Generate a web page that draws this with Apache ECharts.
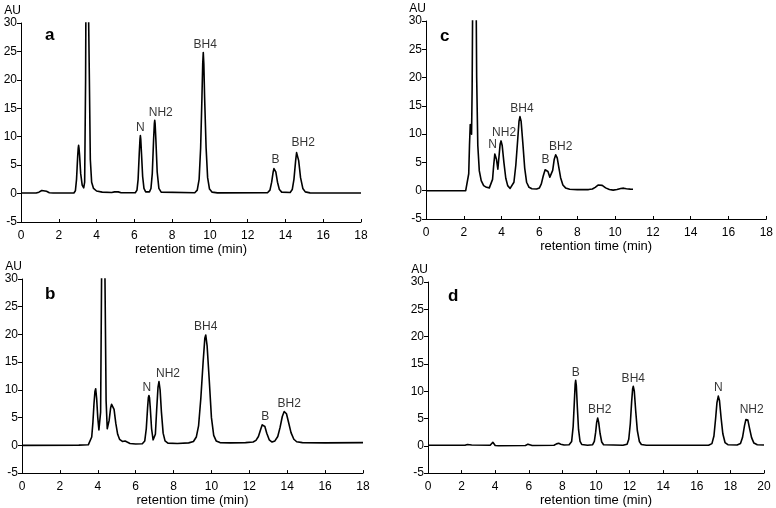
<!DOCTYPE html>
<html>
<head>
<meta charset="utf-8">
<script src="https://cdn.jsdelivr.net/npm/echarts@6/dist/echarts.min.js"></script>
<style>html,body{margin:0;padding:0;background:#fff}#c{width:776px;height:508px}</style>
</head>
<body>
<div id="c"></div>
<script>
// ---------- DATA ----------
const xTicksA = [0, 2, 4, 6, 8, 10, 12, 14, 16, 18];
const xTicksD = [0, 2, 4, 6, 8, 10, 12, 14, 16, 18, 20];
const yTicks = [-5, 0, 5, 10, 15, 20, 25, 30];

// panel a chromatogram [time (min), AU]
const traceA = [[0,0.1],[0.8,0.1],[0.95,0.25],[1.1,0.55],[1.2,0.6],[1.35,0.4],[1.5,0.15],[1.7,0.1],[2.8,0.1],[2.88,0.5],[2.94,2.5],[2.97,4.5],[3.0,6.5],[3.03,8.0],[3.05,8.5],[3.07,8.0],[3.1,6.8],[3.16,3.5],[3.24,1.5],[3.32,1.0],[3.37,2],[3.42,20],[3.47,60],[3.57,60],[3.62,20],[3.67,6],[3.74,2],[3.84,0.9],[4.0,0.45],[4.3,0.25],[4.8,0.2],[4.95,0.3],[5.05,0.5],[5.15,0.3],[5.3,0.15],[6.05,0.15],[6.14,0.6],[6.2,2.5],[6.26,7],[6.3,9.6],[6.32,10.2],[6.34,9.6],[6.38,7],[6.44,3],[6.51,0.9],[6.6,0.3],[6.8,0.3],[6.88,0.9],[6.95,3.5],[7.02,9.5],[7.06,12.3],[7.08,12.9],[7.1,12.3],[7.14,9.5],[7.21,3.8],[7.3,0.9],[7.42,0.25],[9.2,0.15],[9.33,0.6],[9.43,2.5],[9.51,8],[9.58,17],[9.62,22.8],[9.65,24.8],[9.68,22.8],[9.72,17],[9.8,8],[9.88,2.8],[9.98,0.8],[10.12,0.25],[10.4,0.12],[13.05,0.15],[13.18,0.6],[13.27,2],[13.35,3.8],[13.39,4.4],[13.42,4.6],[13.45,4.4],[13.49,3.8],[13.58,2],[13.68,0.7],[13.8,0.25],[14.25,0.2],[14.36,0.7],[14.45,2.5],[14.54,5.8],[14.59,7.2],[14.62,7.5],[14.65,7.2],[14.7,5.8],[14.8,2.8],[14.92,0.9],[15.05,0.3],[15.3,0.12],[18,0.1]];
const peakNamesA = ['N', 'NH2', 'BH4', 'B', 'BH2'];
const peakTimesA = [6.32, 7.08, 9.65, 13.42, 14.62];
const peakHeightsA = [10.2, 12.9, 24.8, 4.6, 7.5];

// panel b
const traceB = [[0,0],[3.0,0.05],[3.5,0.1],[3.6,0.3],[3.68,1.5],[3.74,4],[3.8,7.5],[3.85,9.7],[3.89,10.2],[3.94,8.5],[4.0,5],[4.06,2.8],[4.1,2.6],[4.15,6],[4.2,30],[4.25,60],[4.33,60],[4.38,30],[4.44,8],[4.5,3],[4.54,2.9],[4.6,4.5],[4.68,6.8],[4.73,7.4],[4.77,7.5],[4.81,7.3],[4.86,6.5],[4.95,4],[5.05,2],[5.15,1.1],[5.3,0.7],[5.44,0.8],[5.55,0.6],[5.7,0.35],[6.0,0.25],[6.35,0.3],[6.48,0.8],[6.56,3],[6.63,6.8],[6.67,8.6],[6.7,9.0],[6.73,8.6],[6.77,6.8],[6.84,3],[6.92,1],[6.98,0.8],[7.04,2],[7.11,6.5],[7.18,10.5],[7.23,11.5],[7.29,10],[7.36,6],[7.45,2.2],[7.55,0.8],[7.7,0.4],[8.2,0.35],[8.8,0.45],[9.05,0.7],[9.2,1.5],[9.32,3.5],[9.44,8.5],[9.56,15],[9.65,19.3],[9.7,19.9],[9.77,18],[9.88,12],[10.0,5],[10.12,1.8],[10.25,0.8],[10.45,0.5],[11.0,0.45],[11.8,0.5],[12.2,0.6],[12.35,0.9],[12.48,1.6],[12.58,2.7],[12.68,3.7],[12.74,3.8],[12.82,3.4],[12.92,2.2],[13.05,1.0],[13.2,0.6],[13.35,0.8],[13.5,1.6],[13.62,3.2],[13.74,5.2],[13.84,6.1],[13.89,6.15],[13.96,5.7],[14.06,4.3],[14.2,2.3],[14.35,1.1],[14.5,0.65],[14.8,0.5],[16,0.45],[18,0.5]];
const peakNamesB = ['N', 'NH2', 'BH4', 'B', 'BH2'];
const peakTimesB = [6.7, 7.23, 9.7, 12.74, 13.89];
const peakHeightsB = [9.0, 11.5, 19.9, 3.8, 6.15];

// panel c
const traceC = [[0,0],[2.1,0],[2.2,0.3],[2.26,3],[2.3,8],[2.34,11.7],[2.38,10.5],[2.41,10],[2.44,18],[2.48,40],[2.56,60],[2.64,40],[2.68,20],[2.74,8],[2.82,3.5],[2.92,1.8],[3.05,0.9],[3.2,0.6],[3.35,0.5],[3.45,0.8],[3.52,2],[3.58,4.5],[3.64,6.5],[3.68,6.8],[3.73,5.5],[3.8,3.8],[3.86,6],[3.92,8.2],[3.97,8.8],[4.03,8],[4.12,5],[4.22,2.2],[4.32,0.9],[4.45,0.4],[4.55,0.5],[4.65,1.5],[4.75,4.5],[4.85,9],[4.92,12.3],[4.97,13.1],[5.03,12.3],[5.12,8.5],[5.22,4],[5.32,1.5],[5.45,0.6],[5.6,0.35],[5.85,0.3],[6.0,0.5],[6.1,1.2],[6.2,2.6],[6.3,3.7],[6.37,4.0],[6.45,3.4],[6.55,2.4],[6.62,2.2],[6.7,3.6],[6.78,5.5],[6.86,6.35],[6.94,5.8],[7.02,4.2],[7.12,2.3],[7.24,1.0],[7.38,0.5],[7.6,0.25],[8.0,0.2],[8.6,0.2],[8.8,0.3],[8.95,0.6],[9.1,1.0],[9.2,1.1],[9.32,0.95],[9.5,0.5],[9.7,0.2],[9.9,0.1],[10.1,0.2],[10.3,0.4],[10.45,0.45],[10.6,0.35],[10.8,0.28],[10.95,0.25]];
const peakNamesC = ['N', 'NH2', 'BH4', 'B', 'BH2'];
const peakTimesC = [3.68, 3.97, 4.97, 6.37, 6.86];
const peakHeightsC = [6.8, 8.8, 13.1, 4.0, 6.35];

// panel d
const traceD = [[0,0.1],[2.2,0.1],[2.35,0.25],[2.45,0.3],[2.6,0.15],[3.7,0.1],[3.8,0.3],[3.86,0.65],[3.92,0.3],[4.0,0.05],[4.2,0.0],[5.8,0.05],[5.95,0.3],[6.05,0.2],[6.2,0.05],[7.5,0.1],[7.65,0.35],[7.78,0.45],[7.9,0.3],[8.1,0.15],[8.4,0.2],[8.55,0.8],[8.64,3.5],[8.71,8],[8.76,11.3],[8.79,12.0],[8.83,11],[8.89,7],[8.96,3],[9.05,0.8],[9.15,0.25],[9.5,0.1],[9.8,0.2],[9.9,0.8],[9.98,2.5],[10.04,4.3],[10.1,5.1],[10.16,4.3],[10.24,2.3],[10.34,0.7],[10.45,0.2],[11.6,0.1],[11.85,0.3],[11.95,1.2],[12.04,4],[12.12,8],[12.18,10.4],[12.22,10.9],[12.28,10],[12.36,6.5],[12.46,2.8],[12.58,0.8],[12.7,0.25],[13.0,0.1],[16.7,0.1],[16.9,0.4],[17.02,1.8],[17.12,5],[17.2,7.9],[17.28,9.1],[17.35,8.3],[17.45,5],[17.55,2.2],[17.68,0.6],[17.85,0.2],[18.4,0.15],[18.6,0.4],[18.72,1.5],[18.84,3.7],[18.92,4.8],[18.97,5.1],[19.04,4.7],[19.14,3.2],[19.26,1.5],[19.4,0.5],[19.6,0.2],[20,0.15]];
const peakNamesD = ['B', 'BH2', 'BH4', 'N', 'NH2'];
const peakTimesD = [8.79, 10.1, 12.22, 17.28, 18.97];
const peakHeightsD = [12.0, 5.1, 10.9, 9.1, 5.1];

const panelLetters = ['a', 'b', 'c', 'd'];
const axisTitleX = 'retention time (min)';
const axisTitleY = 'AU';

// ---------- LAYOUT / STYLE ----------
const FONT = "'Liberation Sans', Arial, sans-serif";
const panels = [
  { letter: panelLetters[0], trace: traceA, names: peakNamesA, times: peakTimesA, heights: peakHeightsA, xmax: 18,
    grid: { left: 21, top: 23, width: 340, height: 199 }, letterPos: { left: 45, top: 27 },
    dx: [0, 6, 2, 1, 6] },
  { letter: panelLetters[1], trace: traceB, names: peakNamesB, times: peakTimesB, heights: peakHeightsB, xmax: 18,
    grid: { left: 22, top: 279, width: 341, height: 198 }, letterPos: { left: 45, top: 286 },
    dx: [-2, 9, 0, 2, 4] },
  { letter: panelLetters[2], trace: traceC, names: peakNamesC, times: peakTimesC, heights: peakHeightsC, xmax: 18,
    grid: { left: 426, top: 21, width: 341, height: 198 }, letterPos: { left: 440, top: 28 },
    dx: [-3, 3, 2, -1, 5] },
  { letter: panelLetters[3], trace: traceD, names: peakNamesD, times: peakTimesD, heights: peakHeightsD, xmax: 20,
    grid: { left: 428, top: 282, width: 336, height: 195 }, letterPos: { left: 448, top: 288 },
    dx: [0, 2, 0, 0, 5] }
];

const option = { animation: false, backgroundColor: '#fff', grid: [], xAxis: [], yAxis: [], series: [], title: [] };

panels.forEach((p, i) => {
  option.grid.push(Object.assign({ containLabel: false }, p.grid));
  option.xAxis.push({
    type: 'value', gridIndex: i, min: 0, max: p.xmax, interval: 2,
    name: axisTitleX, nameLocation: 'middle', nameGap: 17,
    nameTextStyle: { color: '#000', fontSize: 13, fontFamily: FONT },
    axisLine: { onZero: false, lineStyle: { color: '#000', width: 1 } },
    axisTick: { show: true, inside: true, length: 3, lineStyle: { color: '#000' } },
    axisLabel: { color: '#000', fontSize: 12, fontFamily: FONT, margin: 8 },
    splitLine: { show: false }
  });
  option.yAxis.push({
    type: 'value', gridIndex: i, min: -5, max: 30, interval: 5,
    name: axisTitleY, nameLocation: 'end', nameGap: 6,
    nameTextStyle: { color: '#000', fontSize: 12, fontFamily: FONT, align: 'right', padding: [0, 0, 0, 0] },
    axisLine: { show: true, lineStyle: { color: '#000', width: 1 } },
    axisTick: { show: true, inside: false, length: 4, lineStyle: { color: '#000' } },
    axisLabel: { color: '#000', fontSize: 12, fontFamily: FONT, margin: 4 },
    splitLine: { show: false }
  });
  option.series.push({
    type: 'line', xAxisIndex: i, yAxisIndex: i, data: p.trace,
    showSymbol: false, symbol: 'none', smooth: false, clip: true,
    lineStyle: { color: '#000', width: 1.6, join: 'round' }, z: 3
  });
  option.series.push({
    type: 'scatter', xAxisIndex: i, yAxisIndex: i, symbolSize: 0, z: 4, silent: true,
    data: p.names.map((n, k) => ({
      value: [p.times[k], p.heights[k]], name: n,
      label: { show: true, position: 'top', distance: 2, offset: [p.dx[k], 0], formatter: n,
               color: '#000', fontSize: 12, fontFamily: FONT }
    }))
  });
  option.title.push({
    text: p.letter, left: p.letterPos.left, top: p.letterPos.top, padding: 0,
    textStyle: { color: '#000', fontSize: 17, fontWeight: 'bold', fontFamily: FONT }
  });
});

const chart = echarts.init(document.getElementById('c'), null, { renderer: 'canvas' });
chart.setOption(option);
</script>
</body>
</html>
